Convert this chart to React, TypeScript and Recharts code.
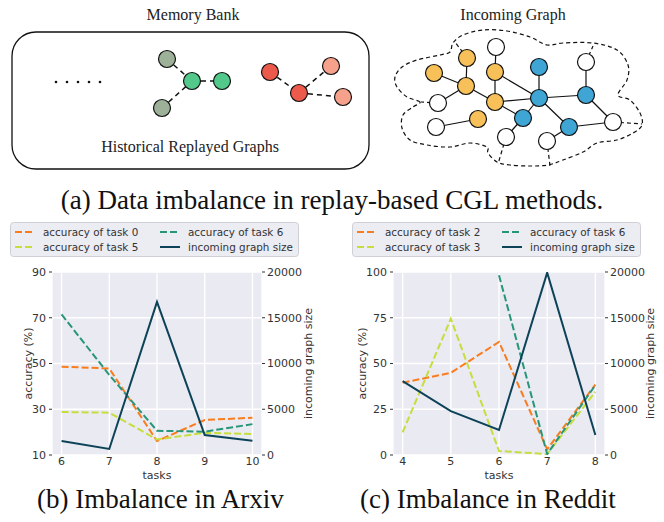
import { LineChart, Line, XAxis, YAxis, CartesianGrid } from 'recharts';

// (b) Arxiv
const arxivTasks = [6, 7, 8, 9, 10];
const arxivTask0 = [48.6, 47.8, 16.1, 25.3, 26.3];
const arxivTask5 = [28.8, 28.5, 16.8, 19.7, 19.2];
const arxivTask6 = [71.5, 45, 20.6, 20.2, 23.5];
const arxivGraphSize = [1530, 660, 16730, 2180, 1560];
const arxivAccTicks = [10, 30, 50, 70, 90];
const arxivLabels = ['accuracy of task 0', 'accuracy of task 5', 'accuracy of task 6', 'incoming graph size'];

// (c) Reddit
const redditTasks = [4, 5, 6, 7, 8];
const redditTask2 = [39.5, 44.9, 61.8, 3.1, 38.5];
const redditTask3 = [12.4, 74.5, 2.2, 0.5, 34.5];
const redditTask6 = [null, null, 98.2, 0.5, 38.2];
const redditGraphSize = [8070, 4800, 2730, 19930, 2180];
const redditAccTicks = [0, 25, 50, 75, 100];
const redditLabels = ['accuracy of task 2', 'accuracy of task 3', 'accuracy of task 6', 'incoming graph size'];

const sizeTicks = [0, 5000, 10000, 15000, 20000];

const SERIES_COLORS = ['#f97c1f', '#c7dd3d', '#27957a', '#0d4358'];
const SERIES_DASH = ['7 3', '7 3', '7 3', undefined];

const FONT = '"DejaVu Sans", sans-serif';
const SERIF = '"Liberation Serif", "Times New Roman", serif';
const TEXT = '#333';

// diagram layout (illustration, not chart data)
const memNodes: [number, number, string][] = [
  [167, 59, '#9cb198'], [162, 108, '#9cb198'], [192, 81, '#52c98a'], [222, 81, '#52c98a'],
  [270, 72, '#ec5a4c'], [299, 93, '#ec5a4c'], [331, 66, '#f5a18c'], [343, 97, '#f5a18c'],
];
const memEdges = [[0, 2], [1, 2], [2, 3], [4, 5], [5, 6], [5, 7]];

const Y = '#f8c059', B = '#3ea5d4', W = '#ffffff';
const inNodes: [number, number, string][] = [
  [496, 47, W], [467, 58, Y], [434, 73, Y], [495, 72, Y], [539, 67, B], [586, 62, W],
  [466, 86, Y], [438, 103, W], [495, 102, Y], [539, 98, B], [586, 95, B], [436, 127, W],
  [478, 119, Y], [523, 118, B], [569, 127, B], [613, 122, W], [506, 137, W], [547, 141, W],
];
const inEdges = [
  [0, 3], [1, 6], [2, 6], [6, 8], [7, 6], [3, 8], [3, 9], [4, 9], [8, 9], [8, 13], [9, 13],
  [9, 10], [5, 10], [10, 15], [9, 14], [14, 15], [14, 17], [13, 16], [11, 12],
];
const outLinks: [number, number, number][] = [
  [1, 455, 42], [5, 593, 46], [15, 642, 124], [16, 498, 164], [17, 550, 166], [7, 421, 102],
];
const cloud: [number, number][] = [
  [420, 102], [407, 97], [397, 87], [395, 77], [402, 67], [417, 60], [440, 55], [450, 52],
  [453, 43], [463, 35], [483, 30], [507, 31], [530, 37], [547, 45], [563, 43], [593, 43],
  [617, 50], [628, 65], [627, 80], [618, 95], [630, 100], [640, 113], [642, 125], [633, 133],
  [617, 140], [597, 143], [583, 152], [563, 160], [548, 165], [530, 166], [510, 165], [497, 162],
  [488, 153], [487, 147], [470, 143], [450, 147], [427, 145], [410, 140], [402, 128], [403, 115],
  [413, 107],
];

function smoothClosed(pts: [number, number][]) {
  const n = pts.length;
  let d = `M${pts[0][0]},${pts[0][1]}`;
  for (let i = 0; i < n; i++) {
    const p0 = pts[(i - 1 + n) % n], p1 = pts[i], p2 = pts[(i + 1) % n], p3 = pts[(i + 2) % n];
    const c1 = [p1[0] + (p2[0] - p0[0]) / 6, p1[1] + (p2[1] - p0[1]) / 6];
    const c2 = [p2[0] - (p3[0] - p1[0]) / 6, p2[1] - (p3[1] - p1[1]) / 6];
    d += ` C${c1[0]},${c1[1]} ${c2[0]},${c2[1]} ${p2[0]},${p2[1]}`;
  }
  return d + 'Z';
}

function Diagram() {
  return (
    <svg width={664} height={175} style={{ position: 'absolute', left: 0, top: 0 }}>
      <text x={193} y={20} textAnchor="middle" fontFamily={SERIF} fontSize={16} fill="#222">Memory Bank</text>
      <rect x={12} y={32} width={357} height={137} rx={24} fill="none" stroke="#111" strokeWidth={1.3} />
      {[0, 1, 2, 3, 4].map((i) => (
        <circle key={i} cx={56 + i * 11} cy={82} r={1.3} fill="#111" />
      ))}
      {memEdges.map(([a, b], i) => (
        <line key={i} x1={memNodes[a][0]} y1={memNodes[a][1]} x2={memNodes[b][0]} y2={memNodes[b][1]}
          stroke="#111" strokeWidth={1.5} strokeDasharray="5 4" />
      ))}
      {memNodes.map(([x, y, c], i) => (
        <circle key={i} cx={x} cy={y} r={8.5} fill={c} stroke="#111" strokeWidth={1.2} />
      ))}
      <text x={190} y={152} textAnchor="middle" fontFamily={SERIF} fontSize={16} fill="#222">Historical Replayed Graphs</text>

      <text x={513} y={20} textAnchor="middle" fontFamily={SERIF} fontSize={16} fill="#222">Incoming Graph</text>
      <path d={smoothClosed(cloud)} fill="none" stroke="#111" strokeWidth={1.2} strokeDasharray="4 3" />
      {outLinks.map(([a, x, y], i) => (
        <line key={i} x1={inNodes[a][0]} y1={inNodes[a][1]} x2={x} y2={y}
          stroke="#111" strokeWidth={1.2} strokeDasharray="4 3" />
      ))}
      {inEdges.map(([a, b], i) => (
        <line key={i} x1={inNodes[a][0]} y1={inNodes[a][1]} x2={inNodes[b][0]} y2={inNodes[b][1]}
          stroke="#111" strokeWidth={1.2} />
      ))}
      {inNodes.map(([x, y, c], i) => (
        <circle key={i} cx={x} cy={y} r={8.5} fill={c} stroke="#111" strokeWidth={1.2} />
      ))}
    </svg>
  );
}

function AxisTitle(props: any) {
  const { viewBox, value, dx } = props;
  if (!viewBox) return null;
  const x = viewBox.x + dx;
  const y = viewBox.y + viewBox.height / 2;
  return (
    <text x={x} y={y} transform={`rotate(-90 ${x} ${y})`} textAnchor="middle" dominantBaseline="central"
      fontFamily={FONT} fontSize={11} fill={TEXT}>
      {value}
    </text>
  );
}

function ChartLegend({ left, labels }: { left: number; labels: string[] }) {
  const slots = [[0, 10], [0, 25], [1, 10], [1, 25]];
  return (
    <svg width={290} height={36} style={{ position: 'absolute', left, top: 222 }}>
      <rect x={0.5} y={0.5} width={288} height={34} rx={3} fill="#ececf3" stroke="#cfcfd6" />
      {labels.map((lab, i) => {
        const [col, y] = slots[i];
        const x0 = col === 0 ? 5 : 150;
        return (
          <g key={lab}>
            <line x1={x0} y1={y} x2={x0 + 20} y2={y} stroke={SERIES_COLORS[i]} strokeWidth={2}
              strokeDasharray={SERIES_DASH[i]} />
            <text x={x0 + 28} y={y} dominantBaseline="central" fontFamily={FONT} fontSize={10.4} fill={TEXT}>
              {lab}
            </text>
          </g>
        );
      })}
    </svg>
  );
}

interface PanelProps {
  left: number;
  width: number;
  tasks: number[];
  acc: (number | null)[][];
  size: number[];
  accTicks: number[];
  leftWidth: number;
  rightWidth: number;
  rightMargin: number;
  leftTitleDx: number;
  rightTitleDx: number;
}

function Panel(p: PanelProps) {
  const data = p.tasks.map((t, i) => ({
    task: t,
    a0: p.acc[0][i],
    a1: p.acc[1][i],
    a2: p.acc[2][i],
    size: p.size[i],
  }));
  const xDomain = [p.tasks[0] - 0.2, p.tasks[p.tasks.length - 1] + 0.2];
  const accDomain = [p.accTicks[0], p.accTicks[p.accTicks.length - 1]];
  const tickStyle = { fontSize: 11, fill: TEXT, fontFamily: FONT };
  return (
    <div style={{ position: 'absolute', left: p.left, top: 220 }}>
      <LineChart width={p.width} height={265} data={data}
        margin={{ top: 52, right: p.rightMargin, left: 0, bottom: 0 }}>
        <CartesianGrid yAxisId="left" fill="#eaeaf2" stroke="#ffffff" strokeWidth={1.3} fillOpacity={1} />
        <XAxis dataKey="task" type="number" domain={xDomain} ticks={p.tasks} allowDataOverflow
          tickLine={false} axisLine={false} tick={tickStyle} tickSize={0} tickMargin={2} height={30}
          label={{ value: 'tasks', position: 'insideBottom', offset: 6, fontSize: 11, fill: TEXT, fontFamily: FONT }} />
        <YAxis yAxisId="left" domain={accDomain} ticks={p.accTicks} allowDataOverflow width={p.leftWidth}
          axisLine={false} tickLine={{ stroke: TEXT }} tickSize={3} tickMargin={3} tick={tickStyle}
          label={<AxisTitle value="accuracy (%)" dx={p.leftTitleDx} />} />
        <YAxis yAxisId="right" orientation="right" domain={[0, 20000]} ticks={sizeTicks} allowDataOverflow
          width={p.rightWidth} axisLine={false} tickLine={{ stroke: TEXT }} tickSize={3} tickMargin={2}
          tick={tickStyle} label={<AxisTitle value="incoming graph size" dx={p.rightTitleDx} />} />
        {['a0', 'a1', 'a2'].map((k, i) => (
          <Line key={k} yAxisId="left" dataKey={k} stroke={SERIES_COLORS[i]} strokeWidth={2}
            strokeDasharray={SERIES_DASH[i]} dot={false} isAnimationActive={false} type="linear" />
        ))}
        <Line yAxisId="right" dataKey="size" stroke={SERIES_COLORS[3]} strokeWidth={2} dot={false}
          isAnimationActive={false} type="linear" />
      </LineChart>
    </div>
  );
}

export default function App() {
  return (
    <div style={{ position: 'absolute', left: 0, top: 0, width: 664, height: 522, background: '#fff' }}>
      <Diagram />
      <div style={{ position: 'absolute', left: 0, top: 184, width: 664, textAlign: 'center',
        fontFamily: SERIF, fontSize: 27, color: '#111', lineHeight: '32px' }}>
        (a) Data imbalance in replay-based CGL methods.
      </div>
      <Panel left={0} width={330} tasks={arxivTasks} acc={[arxivTask0, arxivTask5, arxivTask6]}
        size={arxivGraphSize} accTicks={arxivAccTicks} leftWidth={52} rightWidth={60} rightMargin={8}
        leftTitleDx={28} rightTitleDx={46} />
      <Panel left={340} width={324} tasks={redditTasks} acc={[redditTask2, redditTask3, redditTask6]}
        size={redditGraphSize} accTicks={redditAccTicks} leftWidth={53} rightWidth={52} rightMargin={7}
        leftTitleDx={22} rightTitleDx={45} />
      <ChartLegend left={10} labels={arxivLabels} />
      <ChartLegend left={352} labels={redditLabels} />
      <div style={{ position: 'absolute', left: 37, top: 487, fontFamily: SERIF, fontSize: 27, color: '#111', lineHeight: '24px' }}>
        (b) Imbalance in Arxiv
      </div>
      <div style={{ position: 'absolute', left: 360, top: 487, fontFamily: SERIF, fontSize: 27, color: '#111', lineHeight: '24px' }}>
        (c) Imbalance in Reddit
      </div>
    </div>
  );
}
